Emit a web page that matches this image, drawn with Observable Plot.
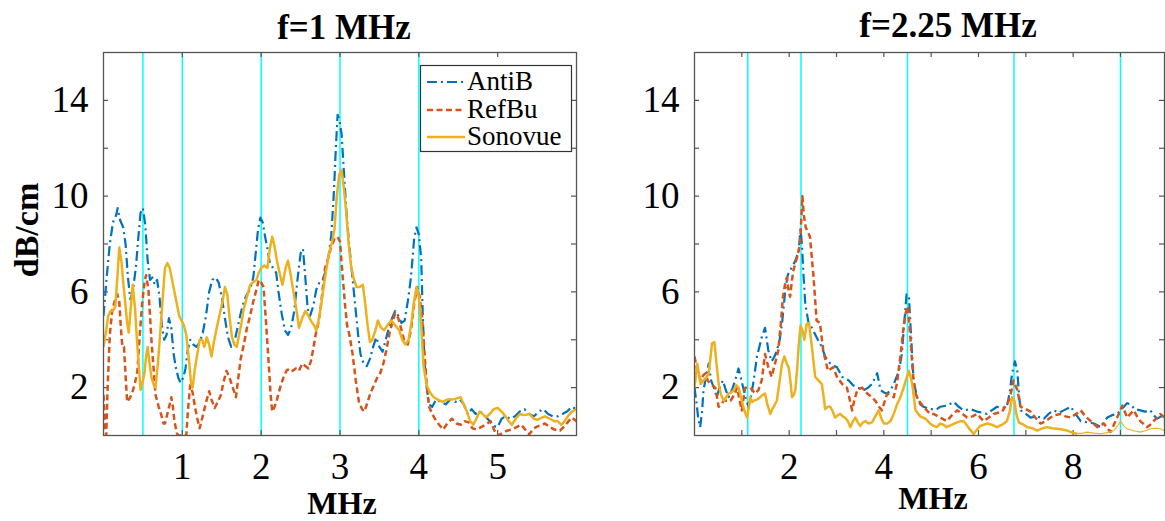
<!DOCTYPE html>
<html>
<head>
<meta charset="utf-8">
<script src="https://cdn.jsdelivr.net/npm/d3@7"></script>
<script src="https://cdn.jsdelivr.net/npm/@observablehq/plot@0.6"></script>
<style>
  body { margin: 0; background: #fff; }
  #wrap { position: relative; width: 1165px; height: 521px; overflow: hidden; background: #fff; }
  #wrap > .panel { position: absolute; top: 0; }
  #overlay { position: absolute; left: 0; top: 0; pointer-events: none; }
  #overlay text { font-family: "Liberation Serif", "Times New Roman", serif; fill: #000; }
</style>
</head>
<body>
<div id="wrap"></div>
<script>
// ---------- data ----------
const seriesNames = ["AntiB", "RefBu", "Sonovue"];
const seriesColors = ["#0072BD", "#D95319", "#EDB120"];
const panelTitles = ["f=1 MHz", "f=2.25 MHz"];
const yLabel = "dB/cm";
const xLabel = "MHz";

const leftCyan = [0.5, 1, 2, 3, 4];
const rightCyan = [1.125, 2.25, 4.5, 6.75, 9];
const leftXTickMarks = [1, 2, 3, 4, 5];
const leftXTickLabels = [1, 2, 3, 4, 5];
const rightXTickMarks = [1, 2, 3, 4, 5, 6, 7, 8, 9];
const rightXTickLabels = [2, 4, 6, 8];
const yTickMarks = [2, 4, 6, 8, 10, 12, 14];
const yTickLabels = [2, 6, 10, 14];

const leftAntiB = [[0,5.0],[0.04,6.6],[0.08,8.0],[0.12,8.9],[0.16,9.2],[0.18,9.5],[0.21,9.0],[0.25,8.7],[0.28,8.0],[0.31,6.6],[0.34,5.7],[0.37,6.0],[0.41,7.0],[0.44,8.2],[0.47,9.3],[0.5,9.5],[0.53,8.8],[0.56,7.3],[0.59,6.5],[0.62,6.6],[0.65,6.3],[0.68,6.5],[0.71,5.8],[0.74,4.6],[0.77,4.0],[0.80,4.2],[0.83,4.9],[0.86,4.5],[0.89,3.4],[0.92,2.8],[0.95,2.4],[0.98,2.2],[1.01,2.4],[1.04,2.8],[1.07,3.6],[1.1,4.0],[1.14,3.8],[1.18,3.7],[1.22,3.9],[1.26,4.3],[1.3,5.0],[1.34,6.0],[1.38,6.5],[1.42,6.6],[1.46,6.4],[1.5,5.8],[1.54,4.9],[1.58,4.1],[1.62,3.7],[1.66,3.9],[1.7,4.5],[1.74,5.1],[1.78,5.6],[1.82,5.9],[1.86,6.1],[1.9,6.6],[1.93,7.6],[1.96,8.6],[1.99,9.1],[2.02,8.9],[2.05,8.3],[2.08,7.8],[2.11,7.2],[2.15,7.0],[2.19,6.8],[2.22,6.0],[2.26,5.1],[2.3,4.4],[2.34,4.2],[2.38,4.5],[2.42,5.2],[2.46,6.5],[2.5,7.6],[2.53,7.8],[2.56,6.6],[2.59,5.3],[2.62,5.0],[2.66,5.4],[2.7,6.1],[2.74,6.4],[2.78,6.5],[2.82,6.9],[2.86,7.6],[2.89,8.4],[2.92,10.0],[2.95,12.2],[2.97,13.4],[2.99,13.2],[3.02,12.6],[3.05,11.0],[3.08,9.4],[3.11,8.2],[3.14,7.2],[3.17,6.2],[3.2,5.2],[3.23,4.2],[3.26,3.4],[3.3,3.0],[3.34,2.9],[3.38,3.2],[3.42,3.7],[3.46,4.1],[3.5,3.7],[3.54,3.5],[3.58,4.0],[3.62,4.5],[3.66,4.9],[3.7,5.2],[3.74,5.0],[3.78,4.7],[3.82,4.8],[3.86,5.6],[3.9,6.6],[3.94,8.2],[3.97,8.7],[4.0,8.4],[4.03,7.4],[4.05,5.0],[4.07,3.2],[4.1,2.0],[4.13,1.3],[4.17,1.2],[4.22,1.5],[4.28,1.4],[4.34,1.3],[4.4,1.5],[4.46,1.4],[4.52,1.5],[4.57,1.3],[4.62,0.9],[4.67,1.1],[4.72,0.9],[4.78,1.0],[4.84,0.8],[4.9,0.6],[4.95,0.4],[5.0,0.35],[5.05,0.7],[5.1,0.8],[5.16,0.7],[5.22,0.8],[5.28,1.0],[5.34,1.1],[5.4,0.9],[5.46,0.8],[5.52,1.0],[5.58,1.1],[5.64,0.9],[5.7,0.8],[5.76,0.8],[5.82,0.9],[5.88,1.0],[5.94,1.2],[6.0,1.1]];

const leftRefBu = [[0,1.7],[0.02,0.3],[0.035,0],[0.05,1.8],[0.08,4.2],[0.11,5.2],[0.14,5.6],[0.175,5.9],[0.2,5.6],[0.22,4.5],[0.24,3.7],[0.26,3.7],[0.28,2.5],[0.3,1.4],[0.34,1.6],[0.37,1.85],[0.4,2.2],[0.43,2.7],[0.46,4.2],[0.49,5.5],[0.52,6.4],[0.54,6.7],[0.57,6.1],[0.59,5.0],[0.61,3.9],[0.64,2.6],[0.66,1.7],[0.7,1.2],[0.73,0.9],[0.76,0.5],[0.78,0.5],[0.81,0.9],[0.84,1.3],[0.86,1.6],[0.88,1.2],[0.9,0.6],[0.93,0.1],[0.95,0],[1.02,0],[1.05,0],[1.07,1.0],[1.1,2.1],[1.13,1.8],[1.16,1.2],[1.19,0.7],[1.22,0.3],[1.25,0.7],[1.28,1.1],[1.31,1.5],[1.34,1.85],[1.37,1.5],[1.41,1.15],[1.45,1.4],[1.49,1.7],[1.52,2.2],[1.56,2.7],[1.6,2.4],[1.64,2.0],[1.68,1.6],[1.71,2.4],[1.74,3.2],[1.78,3.8],[1.82,4.5],[1.86,5.0],[1.9,5.6],[1.94,6.1],[1.97,6.5],[2.0,6.4],[2.03,6.2],[2.06,4.8],[2.09,3.3],[2.12,1.7],[2.14,1.0],[2.17,1.2],[2.2,1.5],[2.24,2.0],[2.28,2.4],[2.32,2.7],[2.36,2.8],[2.4,2.7],[2.44,2.8],[2.48,2.7],[2.52,3.0],[2.56,2.9],[2.6,2.8],[2.63,3.1],[2.66,3.6],[2.69,4.2],[2.72,4.6],[2.75,5.2],[2.78,6.1],[2.81,7.0],[2.85,7.4],[2.89,7.9],[2.93,8.2],[2.97,8.3],[3.0,8.1],[3.03,6.8],[3.06,5.6],[3.09,4.6],[3.12,4.2],[3.16,3.4],[3.2,2.3],[3.24,1.4],[3.28,1.1],[3.31,1.0],[3.35,1.4],[3.39,1.8],[3.43,2.1],[3.47,2.4],[3.51,2.6],[3.55,3.0],[3.59,3.6],[3.63,4.3],[3.67,4.8],[3.7,5.1],[3.74,4.9],[3.78,4.4],[3.82,3.9],[3.86,3.8],[3.9,4.4],[3.94,5.5],[3.98,6.2],[4.01,5.8],[4.04,5.0],[4.07,3.5],[4.1,2.1],[4.13,1.2],[4.17,0.9],[4.22,0.6],[4.27,0.4],[4.31,0.25],[4.36,0.5],[4.42,0.7],[4.48,0.5],[4.53,0.45],[4.58,0.6],[4.63,0.55],[4.68,0.3],[4.73,0.25],[4.79,0.35],[4.85,0.45],[4.91,0.6],[4.96,0.2],[5.0,0.0],[5.06,0.1],[5.12,0.2],[5.18,0.25],[5.24,0.35],[5.3,0.45],[5.36,0.2],[5.4,0.05],[5.46,0.3],[5.52,0.4],[5.6,0.5],[5.66,0.35],[5.72,0.25],[5.79,0.2],[5.85,0.4],[5.9,0.6],[5.94,0.75],[6.0,0.6]];

const leftSonovue = [[0,3.7],[0.03,4.3],[0.06,5.0],[0.09,5.2],[0.12,5.2],[0.15,5.4],[0.18,6.8],[0.2,7.85],[0.23,7.2],[0.25,6.4],[0.28,5.4],[0.3,4.7],[0.32,4.3],[0.35,5.5],[0.37,6.3],[0.4,5.3],[0.42,4.2],[0.45,2.8],[0.47,1.9],[0.5,2.3],[0.52,2.6],[0.54,3.3],[0.56,3.7],[0.58,3.1],[0.61,2.4],[0.64,2.1],[0.66,2.0],[0.69,3.0],[0.72,4.3],[0.75,5.7],[0.78,7.0],[0.81,7.2],[0.84,7.0],[0.87,6.5],[0.9,6.0],[0.93,5.5],[0.96,5.0],[0.99,4.8],[1.02,4.6],[1.05,4.2],[1.08,3.3],[1.11,2.2],[1.13,2.0],[1.16,2.8],[1.19,3.4],[1.22,4.0],[1.25,4.0],[1.28,3.7],[1.31,4.1],[1.34,3.8],[1.37,3.3],[1.4,3.9],[1.43,4.4],[1.47,5.0],[1.51,5.6],[1.54,6.2],[1.57,5.9],[1.6,4.9],[1.63,4.1],[1.66,3.8],[1.69,3.7],[1.72,4.2],[1.75,4.7],[1.78,5.3],[1.82,5.8],[1.86,6.3],[1.9,6.4],[1.94,6.5],[1.97,6.8],[2.0,7.0],[2.04,7.1],[2.08,7.0],[2.11,7.8],[2.14,8.3],[2.17,7.9],[2.2,7.3],[2.24,6.7],[2.27,6.3],[2.31,7.0],[2.34,7.3],[2.37,6.8],[2.41,6.0],[2.45,5.2],[2.48,4.5],[2.52,4.9],[2.56,5.2],[2.6,5.0],[2.63,4.8],[2.67,4.6],[2.7,4.4],[2.74,5.0],[2.78,5.9],[2.82,6.8],[2.86,7.6],[2.9,8.1],[2.93,8.6],[2.96,10.0],[2.99,10.9],[3.02,11.1],[3.05,10.3],[3.08,9.3],[3.11,8.0],[3.14,7.1],[3.17,6.6],[3.21,6.2],[3.25,6.2],[3.29,6.3],[3.32,5.5],[3.35,4.6],[3.38,3.9],[3.41,4.0],[3.45,4.4],[3.48,4.8],[3.52,4.5],[3.56,4.4],[3.6,4.6],[3.65,4.8],[3.7,4.6],[3.75,4.4],[3.79,4.0],[3.83,3.8],[3.87,4.0],[3.91,4.8],[3.94,5.6],[3.97,6.2],[4.0,5.8],[4.03,4.6],[4.06,2.9],[4.1,2.1],[4.14,1.8],[4.19,1.6],[4.24,1.5],[4.3,1.4],[4.36,1.5],[4.42,1.5],[4.48,1.55],[4.53,1.6],[4.57,1.3],[4.61,1.0],[4.65,0.6],[4.69,0.45],[4.73,0.7],[4.77,1.0],[4.81,0.9],[4.85,0.75],[4.9,0.9],[4.95,1.1],[5.0,1.15],[5.05,1.0],[5.1,0.8],[5.14,0.6],[5.18,0.45],[5.23,0.7],[5.28,0.9],[5.34,0.85],[5.4,0.9],[5.46,0.7],[5.5,0.65],[5.56,0.75],[5.6,0.8],[5.66,0.7],[5.72,0.6],[5.76,0.6],[5.81,0.45],[5.85,0.6],[5.89,0.8],[5.94,1.0],[6.0,1.1]];

const rightAntiB = [[0,2.0],[0.04,1.4],[0.08,0.7],[0.12,0.35],[0.16,1.0],[0.19,1.9],[0.24,2.4],[0.3,3.0],[0.35,2.3],[0.41,2.0],[0.47,1.6],[0.53,2.0],[0.6,2.3],[0.66,1.9],[0.72,1.6],[0.79,1.9],[0.86,2.3],[0.93,2.8],[0.98,2.4],[1.04,1.9],[1.09,1.5],[1.14,1.2],[1.2,1.7],[1.25,2.3],[1.32,3.3],[1.42,4.1],[1.49,4.5],[1.56,3.55],[1.63,3.1],[1.69,3.3],[1.74,3.55],[1.8,4.0],[1.85,4.7],[1.92,6.1],[1.97,6.7],[2.02,6.9],[2.08,7.1],[2.13,7.3],[2.2,7.7],[2.24,8.6],[2.27,8.0],[2.3,6.8],[2.34,5.5],[2.41,4.7],[2.48,4.5],[2.58,4.1],[2.69,3.7],[2.76,3.3],[2.87,3.0],[2.95,2.9],[3.01,2.85],[3.12,2.45],[3.26,2.3],[3.35,2.1],[3.44,2.0],[3.58,1.9],[3.67,2.0],[3.75,2.15],[3.86,2.6],[3.93,1.9],[4.0,1.8],[4.07,1.75],[4.14,1.9],[4.21,2.15],[4.32,2.7],[4.38,3.4],[4.42,4.4],[4.48,5.9],[4.53,5.8],[4.58,4.0],[4.63,2.3],[4.7,1.6],[4.77,1.3],[4.84,1.2],[4.98,1.1],[5.12,1.1],[5.19,1.2],[5.33,1.25],[5.48,1.4],[5.58,1.2],[5.69,1.05],[5.83,1.1],[5.97,1.0],[6.08,0.95],[6.18,0.9],[6.28,1.05],[6.39,1.2],[6.5,1.15],[6.6,1.2],[6.66,1.8],[6.71,2.6],[6.77,3.1],[6.82,2.7],[6.86,1.6],[6.89,1.05],[7.0,0.9],[7.1,0.75],[7.24,0.8],[7.38,0.7],[7.48,0.9],[7.59,1.05],[7.7,0.95],[7.8,1.05],[7.95,1.2],[8.05,0.9],[8.16,0.6],[8.3,0.55],[8.44,0.5],[8.58,0.35],[8.65,0.55],[8.72,0.75],[8.82,0.85],[8.93,0.9],[9.0,1.05],[9.07,1.2],[9.14,1.35],[9.21,1.3],[9.3,1.1],[9.42,1.05],[9.52,1.0],[9.63,1.05],[9.7,0.85],[9.77,0.7],[9.86,0.8],[9.93,0.75]];

const rightRefBu = [[0,3.3],[0.06,2.7],[0.13,2.3],[0.18,2.5],[0.23,2.6],[0.28,2.3],[0.34,2.15],[0.44,2.0],[0.51,1.2],[0.56,1.3],[0.62,1.45],[0.76,1.45],[0.84,1.7],[0.9,2.0],[0.95,1.5],[1.0,1.05],[1.07,2.0],[1.18,2.0],[1.28,1.75],[1.35,1.9],[1.42,2.3],[1.49,3.4],[1.56,2.85],[1.63,2.45],[1.7,3.0],[1.77,3.55],[1.82,4.6],[1.87,5.8],[1.92,6.4],[1.95,6.6],[1.99,6.0],[2.02,5.8],[2.06,6.5],[2.09,6.9],[2.13,7.2],[2.17,7.45],[2.23,8.0],[2.26,9.2],[2.28,10.0],[2.31,9.2],[2.35,8.7],[2.44,8.3],[2.51,6.75],[2.58,4.8],[2.65,4.7],[2.72,3.55],[2.82,2.7],[2.93,2.85],[3.01,2.45],[3.12,2.15],[3.22,2.0],[3.28,1.5],[3.33,1.05],[3.38,1.5],[3.44,1.9],[3.54,2.0],[3.65,1.75],[3.75,1.6],[3.82,1.45],[3.9,1.2],[3.96,1.05],[4.07,1.75],[4.14,1.7],[4.21,1.6],[4.28,2.2],[4.35,3.3],[4.41,4.4],[4.46,5.1],[4.51,5.4],[4.56,4.1],[4.6,3.0],[4.63,2.15],[4.68,1.7],[4.74,1.45],[4.84,1.2],[4.98,0.9],[5.05,0.9],[5.19,0.75],[5.33,0.6],[5.44,0.85],[5.55,1.05],[5.66,0.9],[5.76,0.75],[5.87,0.8],[5.97,0.9],[6.11,0.6],[6.22,0.75],[6.32,0.9],[6.5,1.0],[6.64,1.45],[6.7,1.9],[6.74,2.3],[6.78,2.1],[6.82,1.9],[6.89,1.2],[7.0,1.1],[7.1,1.0],[7.2,0.75],[7.31,0.5],[7.42,0.6],[7.52,0.75],[7.62,0.85],[7.73,0.9],[7.84,0.8],[7.95,0.75],[8.06,0.9],[8.16,1.05],[8.26,0.8],[8.37,0.6],[8.51,0.35],[8.65,0.5],[8.72,0.3],[8.79,0.15],[8.86,0.45],[8.93,0.75],[9.04,1.25],[9.14,0.75],[9.21,0.9],[9.28,1.05],[9.35,0.8],[9.42,0.6],[9.56,0.35],[9.63,0.45],[9.7,0.6],[9.77,0.75],[9.84,0.9],[9.93,0.75]];

const rightSonovue = [[0,2.0],[0.06,3.0],[0.1,2.5],[0.13,2.15],[0.19,2.3],[0.24,2.4],[0.3,2.6],[0.34,3.3],[0.37,3.85],[0.42,3.9],[0.46,3.1],[0.51,2.15],[0.56,1.7],[0.62,1.45],[0.67,1.6],[0.72,1.75],[0.78,1.8],[0.83,1.9],[0.88,2.1],[0.93,2.0],[0.97,1.7],[1.0,1.45],[1.06,1.0],[1.11,0.75],[1.15,1.2],[1.18,1.6],[1.22,1.4],[1.25,1.45],[1.32,1.5],[1.39,1.6],[1.44,1.7],[1.49,1.75],[1.54,1.3],[1.6,0.9],[1.67,1.2],[1.74,1.45],[1.8,2.3],[1.85,3.0],[1.9,3.3],[1.95,3.0],[1.99,2.85],[2.03,2.2],[2.06,1.6],[2.1,1.7],[2.13,1.9],[2.17,2.8],[2.2,3.7],[2.24,4.6],[2.28,4.4],[2.32,4.0],[2.37,4.65],[2.42,4.7],[2.48,3.7],[2.55,2.45],[2.62,2.3],[2.69,2.15],[2.73,1.6],[2.76,1.1],[2.82,1.2],[2.87,1.2],[2.92,1.0],[2.97,0.75],[3.03,0.85],[3.08,0.9],[3.13,0.8],[3.18,0.75],[3.24,0.6],[3.29,0.35],[3.35,0.6],[3.4,0.75],[3.45,0.55],[3.5,0.4],[3.56,0.55],[3.61,0.6],[3.68,0.5],[3.75,0.55],[3.82,0.8],[3.89,1.05],[3.95,0.7],[4.0,0.5],[4.07,0.5],[4.14,0.6],[4.21,0.9],[4.28,1.3],[4.35,1.6],[4.42,2.0],[4.48,2.4],[4.53,2.7],[4.57,2.4],[4.6,2.15],[4.67,1.05],[4.77,0.8],[4.88,0.7],[4.98,0.5],[5.05,0.4],[5.12,0.35],[5.19,0.5],[5.26,0.45],[5.33,0.35],[5.44,0.45],[5.55,0.55],[5.62,0.6],[5.69,0.6],[5.8,0.3],[5.9,0.07],[5.97,0.25],[6.04,0.4],[6.11,0.45],[6.18,0.5],[6.28,0.45],[6.39,0.35],[6.5,0.45],[6.6,0.6],[6.66,1.0],[6.71,1.6],[6.76,1.45],[6.8,0.9],[6.85,0.55],[6.95,0.45],[7.03,0.35],[7.14,0.3],[7.24,0.2],[7.35,0.3],[7.45,0.35],[7.55,0.3],[7.66,0.28],[7.77,0.25],[7.88,0.2],[7.98,0.12],[8.09,0.07],[8.2,0.1],[8.3,0.14],[8.44,0.1],[8.58,0.07],[8.72,0.12],[8.86,0.2],[8.94,0.4],[9.0,0.6],[9.07,0.4],[9.14,0.28],[9.28,0.2],[9.42,0.14],[9.53,0.2],[9.63,0.28],[9.74,0.3],[9.84,0.28],[9.93,0.2]];

// ---------- styling ----------
const dashes = ["10,4,2,4", "6,3.5", null];
const widths = [2.2, 2.5, 2.5];
const axisColor = "#555";
const fontFamily = '"Liberation Serif", "Times New Roman", serif';
const H = 521, MT = 52, MB = 86;

// thinSince: x from which a series is drawn with a thin stroke (as in the reference)
function panel({width, marginLeft, marginRight, xDomain, xTickMarks, xTickLabels, cyan, series, thinSince}) {
  const plotW = width - marginLeft - marginRight;
  const plotH = H - MT - MB;
  const tick = 5;
  const lines = series.flatMap((pts, i) => {
    const rows = pts.map(([f, v]) => ({f, v}));
    const base = {x: "f", y: "v", stroke: seriesColors[i], strokeDasharray: dashes[i],
      strokeLinejoin: "round", strokeLinecap: "butt", clip: true};
    const cut = thinSince && thinSince[i];
    if (cut == null) return [Plot.line(rows, {...base, strokeWidth: widths[i]})];
    return [
      Plot.line(rows.filter(d => d.f <= cut), {...base, strokeWidth: widths[i]}),
      Plot.line(rows.filter(d => d.f >= cut), {...base, strokeWidth: 1.1})
    ];
  });
  return Plot.plot({
    width, height: H, marginLeft, marginRight, marginTop: MT, marginBottom: MB,
    style: {fontFamily, fontSize: "37px", color: "#000", background: "transparent", overflow: "visible"},
    x: {domain: xDomain, axis: null},
    y: {domain: [0, 16], axis: null},
    marks: [
      Plot.ruleX(cyan, {stroke: "#00ffff", strokeWidth: 1.5}),
      Plot.ruleX(xTickMarks, {stroke: axisColor, strokeWidth: 1.2, insetTop: plotH - tick}),
      Plot.ruleX(xTickMarks, {stroke: axisColor, strokeWidth: 1.2, insetBottom: plotH - tick}),
      Plot.ruleY(yTickMarks, {stroke: axisColor, strokeWidth: 1.2, insetRight: plotW - tick}),
      Plot.ruleY(yTickMarks, {stroke: axisColor, strokeWidth: 1.2, insetLeft: plotW - tick}),
      ...lines,
      Plot.frame({stroke: axisColor, strokeWidth: 1.3}),
      Plot.axisX(xTickLabels, {anchor: "bottom", tickSize: 0, tickPadding: 17, label: null, fill: "#000"}),
      Plot.axisY(yTickLabels, {anchor: "left", tickSize: 0, tickPadding: 15, label: null, fill: "#000"})
    ]
  });
}

const wrap = document.getElementById("wrap");

const left = panel({
  width: 582, marginLeft: 103, marginRight: 6, xDomain: [0, 6],
  xTickMarks: leftXTickMarks, xTickLabels: leftXTickLabels, cyan: leftCyan,
  series: [leftAntiB, leftRefBu, leftSonovue]
});
left.classList.add("panel");
left.style.left = "0px";
wrap.appendChild(left);

const right = panel({
  width: 583, marginLeft: 112, marginRight: 1, xDomain: [0, 9.93],
  xTickMarks: rightXTickMarks, xTickLabels: rightXTickLabels, cyan: rightCyan,
  series: [rightAntiB, rightRefBu, rightSonovue],
  thinSince: [null, null, 8.09]
});
right.classList.add("panel");
right.style.left = "582px";
wrap.appendChild(right);

// ---------- titles, axis labels, legend (overlay) ----------
const NS = "http://www.w3.org/2000/svg";
const ov = document.createElementNS(NS, "svg");
ov.setAttribute("id", "overlay");
ov.setAttribute("width", 1165);
ov.setAttribute("height", 521);
wrap.appendChild(ov);
const sel = d3.select(ov);

function txt(s, x, y, size) {
  return sel.append("text").attr("x", x).attr("y", y).attr("font-size", size)
    .attr("font-weight", "bold").attr("text-anchor", "middle").text(s);
}
txt(panelTitles[0], 344, 39, 35);
txt(panelTitles[1], 948, 37, 35);
txt(xLabel, 342, 514, 32);
txt(xLabel, 933, 509, 32);
sel.append("text").attr("transform", "translate(38,230) rotate(-90)")
  .attr("font-size", 34).attr("font-weight", "bold").attr("text-anchor", "middle").text(yLabel);

// legend
const lg = sel.append("g");
lg.append("rect").attr("x", 420.5).attr("y", 65.5).attr("width", 151).attr("height", 86)
  .attr("fill", "#fff").attr("stroke", "#333").attr("stroke-width", 1.2);
const legY = [82, 110, 137];
seriesNames.forEach((name, i) => {
  lg.append("line").attr("x1", 427).attr("x2", 465).attr("y1", legY[i]).attr("y2", legY[i])
    .attr("stroke", seriesColors[i]).attr("stroke-width", widths[i])
    .attr("stroke-dasharray", dashes[i] || null);
  lg.append("text").attr("x", 467).attr("y", legY[i] + 8).attr("font-size", 27)
    .attr("text-anchor", "start").text(name);
});
</script>
</body>
</html>
